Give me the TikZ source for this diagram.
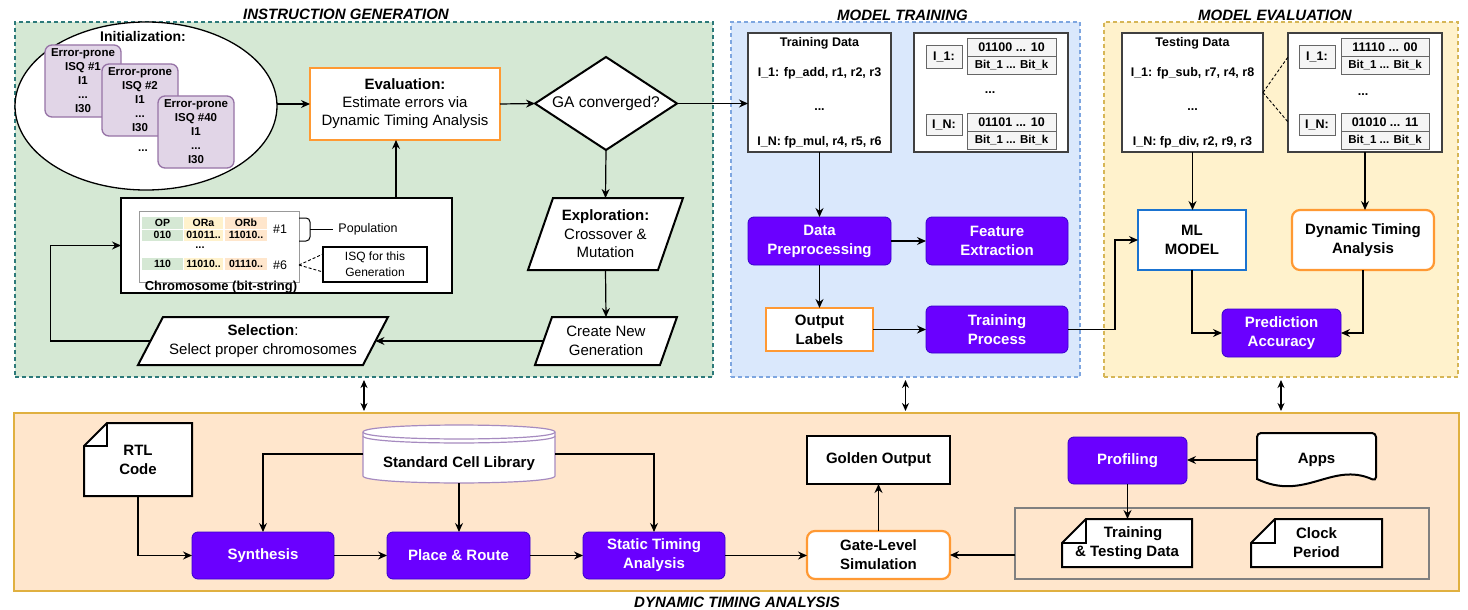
\documentclass[tikz,border=0pt]{standalone}
\usepackage{fontspec}
\setmainfont{Liberation Sans}
\usetikzlibrary{arrows.meta,shapes.geometric}

\definecolor{igfill}{HTML}{D5E8D4}
\definecolor{igline}{HTML}{2D7A7A}
\definecolor{mtfill}{HTML}{DAE8FC}
\definecolor{mtline}{HTML}{7EA6E0}
\definecolor{mefill}{HTML}{FFF2CC}
\definecolor{meline}{HTML}{D6B656}
\definecolor{dtfill}{HTML}{FFE6CC}
\definecolor{dtline}{HTML}{E0B040}
\definecolor{purpfill}{HTML}{6A00FF}
\definecolor{purpline}{HTML}{3700CC}
\definecolor{orngline}{HTML}{FF9933}
\definecolor{cardfill}{HTML}{E1D5E7}
\definecolor{cardline}{HTML}{9673A6}
\definecolor{mlline}{HTML}{1A73D0}
\definecolor{cellG}{HTML}{D5E8D4}
\definecolor{cellY}{HTML}{FFF2CC}
\definecolor{cellO}{HTML}{FFE6CC}
\definecolor{bitsfill}{HTML}{F5F5F5}
\definecolor{bitsline}{HTML}{666666}
\definecolor{libline}{HTML}{A68BC0}
\definecolor{grpline}{HTML}{808080}

\newcommand{\setfs}[2]{\fontsize{#1}{#2}\selectfont}
% folded-corner document outline: x0, y0, x1, y1, fold size
\newcommand{\foldshape}[5]{%
  \draw[line width=2pt,fill=white] ({#1+#5},#2) -- (#3,#2) -- (#3,#4) -- (#1,#4) -- (#1,{#2+#5}) -- cycle;
  \draw[line width=2pt] (#1,{#2+#5}) -- ({#1+#5},{#2+#5}) -- ({#1+#5},#2);}
% parallelogram outline: x0, y0, x1, y1, slant
\newcommand{\slantshape}[5]{%
  \draw[line width=2pt,fill=white] ({#1+#5},#2) -- (#3,#2) -- ({#3-#5},#4) -- (#1,#4) -- cycle;}

\begin{document}
\begin{tikzpicture}[x=1pt,y=-1pt,
  sz/.style 2 args={minimum width=#1pt,minimum height=#2pt},
  base/.style={inner sep=0pt,outer sep=0pt,align=center,text=black},
  panel/.style={base,rectangle,line width=1.1pt,dash pattern=on 4pt off 3pt},
  title/.style={base,font=\setfs{15}{17}\bfseries\itshape},
  card/.style={base,rectangle,rounded corners=7pt,fill=cardfill,draw=cardline,line width=1.3pt,sz={76}{72},font=\setfs{11.5}{14}\bfseries},
  purp/.style={base,rectangle,rounded corners=6pt,fill=purpfill,draw=purpline,line width=0.8pt,text=white,font=\setfs{15}{19}\bfseries},
  orng/.style={base,rectangle,fill=white,draw=orngline,line width=2.2pt},
  plain/.style={base,font=\setfs{15}{18.5}},
  bold/.style={base,font=\setfs{15}{19}\bfseries},
  datbox/.style={base,rectangle,draw=black!75,line width=1.2pt,fill=white,sz={#1}{119}},
  dattxt/.style={base,font=\setfs{12.5}{14}\bfseries},
  bitbox/.style={base,rectangle,draw=bitsline,fill=bitsfill,line width=1pt,font=\setfs{12.5}{14}\bfseries},
  bitlow/.style={bitbox,font=\setfs{11.5}{13}\bfseries},
  cell/.style={base,rectangle,sz={#1}{12},font=\setfs{10.5}{11}\bfseries},
  dsh/.style={line width=0.9pt,dash pattern=on 3pt off 2pt},
  arr/.style={draw=black,line width=1.2pt,-{Stealth[length=9pt,width=8pt,inset=3pt]}},
  dbl/.style={draw=black,line width=1.2pt,{Stealth[length=8pt,width=7pt,inset=2.5pt]}-{Stealth[length=8pt,width=7pt,inset=2.5pt]},shorten <=3pt,shorten >=2pt},
]
\useasboundingbox (0,0) rectangle (1468,610);

% ---------- panels ----------
\node[panel,fill=igfill,draw=igline,sz={698}{355}] (ig) at (364,199.5) {};
\node[panel,fill=mtfill,draw=mtline,sz={349}{355}] (mt) at (905.5,199.5) {};
\node[panel,fill=mefill,draw=meline,sz={354}{355}] (me) at (1281,199.5) {};
\node[base,rectangle,fill=dtfill,draw=dtline,line width=1.5pt,sz={1445}{178}] (dtap) at (736.5,502) {};

\node[title] (igT) at (346,14) {INSTRUCTION GENERATION};
\node[title] (mtT) at (902.5,15) {MODEL TRAINING};
\node[title] (meT) at (1275,15) {MODEL EVALUATION};
\node[title] (dtT) at (737,602) {DYNAMIC TIMING ANALYSIS};

\draw[dbl] (ig.south) -- (ig.south |- dtap.north);
\draw[dbl] (mt.south) -- (mt.south |- dtap.north);
\draw[dbl] (me.south) -- (me.south |- dtap.north);

% ---------- instruction generation ----------
\node[base,ellipse,draw,line width=1.3pt,fill=white,sz={262}{168}] (init) at (146,106) {};
\node[base,font=\setfs{14}{16}\bfseries] (initT) at (143,36) {Initialization:};
\node[card] (card1) at (83,81) {Error-prone\\ISQ \#1\\I1\\...\\I30};
\node[card] (card2) at (140,100) {Error-prone\\ISQ \#2\\I1\\...\\I30};
\node[card] (card3) at (196,132) {Error-prone\\ISQ \#40\\I1\\...\\I30};
\node[base,font=\setfs{11.5}{13}\bfseries] (cdots) at (143,151) {...};

\node[orng,sz={190}{72},font=\setfs{15}{18}] (eval) at (405,104)
  {\textbf{Evaluation:}\\Estimate errors via\\Dynamic Timing Analysis};
\node[base,diamond,aspect=1.5,draw,line width=2pt,fill=white,sz={142}{93},font=\setfs{15.5}{18}] (ga) at (606,103.5) {GA converged?};

\slantshape{528}{198}{683}{270}{25}
\node[plain,sz={155}{72}] (expl) at (605.5,234) {\textbf{Exploration:}\\Crossover \&\\Mutation};
\slantshape{535}{317}{677}{365}{17}
\node[plain,sz={142}{48}] (cng) at (606,341) {Create New\\Generation};
\slantshape{138}{317}{388}{365}{25}
\node[plain,sz={250}{48}] (sel) at (263,341) {\textbf{Selection}:\\Select proper chromosomes};

% chromosome population
\node[base,rectangle,draw,line width=2.2pt,fill=white,sz={331}{95}] (chrom) at (286.5,245.5) {};
\node[base,rectangle,draw=black!40,line width=1pt,fill=white,sz={160}{71}] (cin) at (219,246.5) {};
\node[cell=41,fill=cellG] (c11) at (162.5,223) {OP};
\node[cell=41,fill=cellG] (c21) at (162.5,235) {010};
\node[cell=39,fill=cellY] (c12) at (203.5,223) {ORa};
\node[cell=39,fill=cellY] (c22) at (203.5,235) {01011..};
\node[cell=42,fill=cellO] (c13) at (246,223) {ORb};
\node[cell=42,fill=cellO] (c23) at (246,235) {11010..};
\draw[white,line width=0.8pt] (c21.north west) -- (c23.north east);
\node[cell=41,fill=cellG] (c31) at (162.5,264) {110};
\node[cell=39,fill=cellY] (c32) at (203.5,264) {11010..};
\node[cell=42,fill=cellO] (c33) at (246,264) {01110..};
\node[base,font=\setfs{11}{12}\bfseries] (rdots) at (200,248) {...};
\node[base,font=\setfs{12.5}{14}] (n1) at (280,229) {\#1};
\node[base,font=\setfs{12.5}{14}] (n6) at (280,265) {\#6};
\draw[line width=1pt,rounded corners=4pt] (cin.east |- 0,218) -- (310,218) -- (310,241) -- (cin.east |- 0,241);
\coordinate (brc) at (310,229);
\node[base,font=\setfs{12.5}{14}] (pop) at (368,229) {Population};
\draw[line width=1pt] (brc) -- ([xshift=-5pt]pop.west);
\node[base,rectangle,draw,line width=1.2pt,fill=white,sz={104}{35},font=\setfs{12}{16}] (isq) at (375,264.5) {ISQ for this\\Generation};
\draw[dsh] (cin.east |- n6) -- ([yshift=10.5pt]isq.west);
\draw[dsh] (cin.east |- n6) -- ([yshift=-7.5pt]isq.west);
\node[base,font=\setfs{13}{14}\bfseries] (chromT) at (221,287.5) {Chromosome (bit-string)};

% GA flow
\draw[arr] (init.east |- eval.west) -- (eval.west);
\draw[arr] (eval.east) -- (ga.west);
\draw[arr] (ga.south) -- (expl.north);
\draw[arr] (expl.south) -- (cng.north);
\draw[arr] ([xshift=8.5pt]cng.west) -- ([xshift=-12.5pt]sel.east);
\draw[arr] ([xshift=12.5pt]sel.west) -- ++(-100,0) |- (chrom.west);
\draw[arr] ([xshift=109.5pt]chrom.north) -- ([xshift=-9pt]eval.south);

% ---------- model training ----------
\node[datbox=143] (tdata) at (819.5,92.5) {};
\node[dattxt] (tdT) at (819.5,43) {Training Data};
\node[dattxt] (td1) at (819.5,73) {I\_1: fp\_add, r1, r2, r3};
\node[dattxt] (tdd) at (819.5,110) {...};
\node[dattxt] (td2) at (819.5,142) {I\_N: fp\_mul, r4, r5, r6};

\node[datbox=154] (tbits) at (991,92.5) {};
\node[bitbox,sz={36}{23}] (tI1) at (944,57) {I\_1:};
\node[bitbox,sz={89}{18}] (tb1a) at (1011.5,47.5) {01100 ... 10};
\node[bitlow,sz={89}{18}] (tb1b) at (1011.5,65.5) {Bit\_1 ... Bit\_k};
\node[dattxt] (tbd) at (990,93) {...};
\node[bitbox,sz={36}{21}] (tIN) at (944,124.5) {I\_N:};
\node[bitbox,sz={89}{18}] (tb2a) at (1011.5,122) {01101 ... 10};
\node[bitlow,sz={89}{18}] (tb2b) at (1011.5,140) {Bit\_1 ... Bit\_k};

\node[purp,sz={143}{48}] (dprep) at (819.5,241) {Data\\Preprocessing};
\node[purp,sz={142}{48}] (fext) at (997,241) {Feature\\Extraction};
\node[orng,sz={107}{43},font=\setfs{15}{19}\bfseries] (olab) at (819.5,329.5) {Output\\Labels};
\node[purp,sz={142}{47}] (tproc) at (997,329.5) {Training\\Process};

\draw[arr] (ga.east) -- (ga.east -| tdata.west);
\draw[arr] (tdata.south) -- (dprep.north);
\draw[arr] (dprep.east) -- (fext.west);
\draw[arr] (dprep.south) -- (olab.north);
\draw[arr] (olab.east) -- (tproc.west);

% ---------- model evaluation ----------
\node[datbox=141] (edata) at (1192.5,92.5) {};
\node[dattxt] (edT) at (1192.5,43) {Testing Data};
\node[dattxt] (ed1) at (1192.5,73) {I\_1: fp\_sub, r7, r4, r8};
\node[dattxt] (edd) at (1192.5,110) {...};
\node[dattxt] (ed2) at (1192.5,142) {I\_N: fp\_div, r2, r9, r3};

\node[datbox=154] (ebits) at (1365,92.5) {};
\node[bitbox,sz={36}{23}] (eI1) at (1317,57) {I\_1:};
\node[bitbox,sz={88}{18}] (eb1a) at (1385,47.5) {11110 ... 00};
\node[bitlow,sz={88}{18}] (eb1b) at (1385,65.5) {Bit\_1 ... Bit\_k};
\node[dattxt] (ebd) at (1363,95) {...};
\node[bitbox,sz={36}{21}] (eIN) at (1317,124.5) {I\_N:};
\node[bitbox,sz={88}{18}] (eb2a) at (1385,122) {01010 ... 11};
\node[bitlow,sz={88}{18}] (eb2b) at (1385,140) {Bit\_1 ... Bit\_k};
\draw[dsh] (edata.east) -- ([yshift=35.5pt]ebits.west);
\draw[dsh] (edata.east) -- ([yshift=-29.5pt]ebits.west);

\node[base,rectangle,draw=mlline,line width=2.2pt,fill=white,sz={108}{60},font=\setfs{15}{19}\bfseries] (ml) at (1192,240) {ML\\MODEL};
\node[orng,rounded corners=8pt,sz={142}{60},font=\setfs{15}{19}\bfseries] (dtaE) at (1363,240) {Dynamic Timing\\Analysis};
\node[purp,sz={119}{48}] (pacc) at (1281.5,333) {Prediction\\Accuracy};

\draw[arr] (tproc.east) -- ++(47,0) |- (ml.west);
\draw[arr] (edata.south) -- (edata.south |- ml.north);
\draw[arr] (ebits.south) -- (ebits.south |- dtaE.north);
\draw[arr] (ml.south) |- (pacc.west);
\draw[arr] (dtaE.south) |- (pacc.east);

% ---------- dynamic timing analysis ----------
\foldshape{84}{423}{192}{496}{23}
\node[bold,sz={108}{73}] (rtl) at (138,459.5) {RTL\\Code};

% standard cell library drum
\draw[draw=libline,line width=1.2pt,fill=white]
  (363,432) -- (363,476) .. controls (363,485.3) and (555,485.3) .. (555,476)
  -- (555,432) .. controls (555,422.7) and (363,422.7) .. (363,432) -- cycle;
\draw[draw=libline,line width=1.2pt] (363,432) .. controls (363,441.3) and (555,441.3) .. (555,432);
\draw[draw=libline,line width=1.2pt] (363,436) .. controls (363,445.3) and (555,445.3) .. (555,436);
\node[base,sz={192}{58}] (lib) at (459,454) {};
\node[bold] (libT) at (459,464) {Standard Cell Library};

\node[purp,sz={142}{47}] (synth) at (263,555.5) {Synthesis};
\node[purp,sz={143}{47}] (pr) at (458.5,555.5) {Place \& Route};
\node[purp,sz={142}{47}] (sta) at (654,555.5) {Static Timing\\Analysis};
\node[base,rectangle,draw,line width=2.2pt,fill=white,sz={143}{48},font=\setfs{15}{19}\bfseries] (gold) at (878.5,460) {Golden Output};
\node[orng,rounded corners=8pt,sz={143}{48},font=\setfs{15}{19}\bfseries] (gls) at (878.5,555) {Gate-Level\\Simulation};

\node[base,rectangle,draw=grpline,line width=1.2pt,sz={414}{71}] (grp) at (1222,543.5) {};
\node[purp,sz={119}{47}] (prof) at (1127.5,460.5) {Profiling};

% apps document with wavy lower edge
\draw[line width=2pt,fill=white,rounded corners=4pt]
  (1257,479) -- (1257,433) -- (1376,433) -- (1376,481) [sharp corners]
  .. controls (1332,461) and (1305,502) .. (1257,479) -- cycle;
\node[bold,sz={119}{54}] (apps) at (1316.5,460) {Apps};

\foldshape{1062}{519}{1192}{567}{24}
\node[bold,sz={130}{48}] (ttd) at (1127,543) {\hspace*{12pt}Training\\\& Testing Data};
\foldshape{1251}{519}{1382}{567}{24}
\node[bold,sz={131}{48}] (clk) at (1316.5,543) {Clock\\Period};

\draw[arr] (rtl.south) |- (synth.west);
\draw[arr] (lib.west) -| (synth.north);
\draw[arr] (lib.south) -- (lib.south |- pr.north);
\draw[arr] (lib.east) -| (sta.north);
\draw[arr] (synth.east) -- (pr.west);
\draw[arr] (pr.east) -- (sta.west);
\draw[arr] (sta.east) -- (sta.east -| gls.west);
\draw[arr] (gls.north) -- (gold.south);
\draw[arr] (grp.west |- gls.east) -- (gls.east);
\draw[arr] (apps.west) -- (apps.west -| prof.east);
\draw[arr] (prof.south) -- (prof.south |- ttd.north);
\end{tikzpicture}
\end{document}
